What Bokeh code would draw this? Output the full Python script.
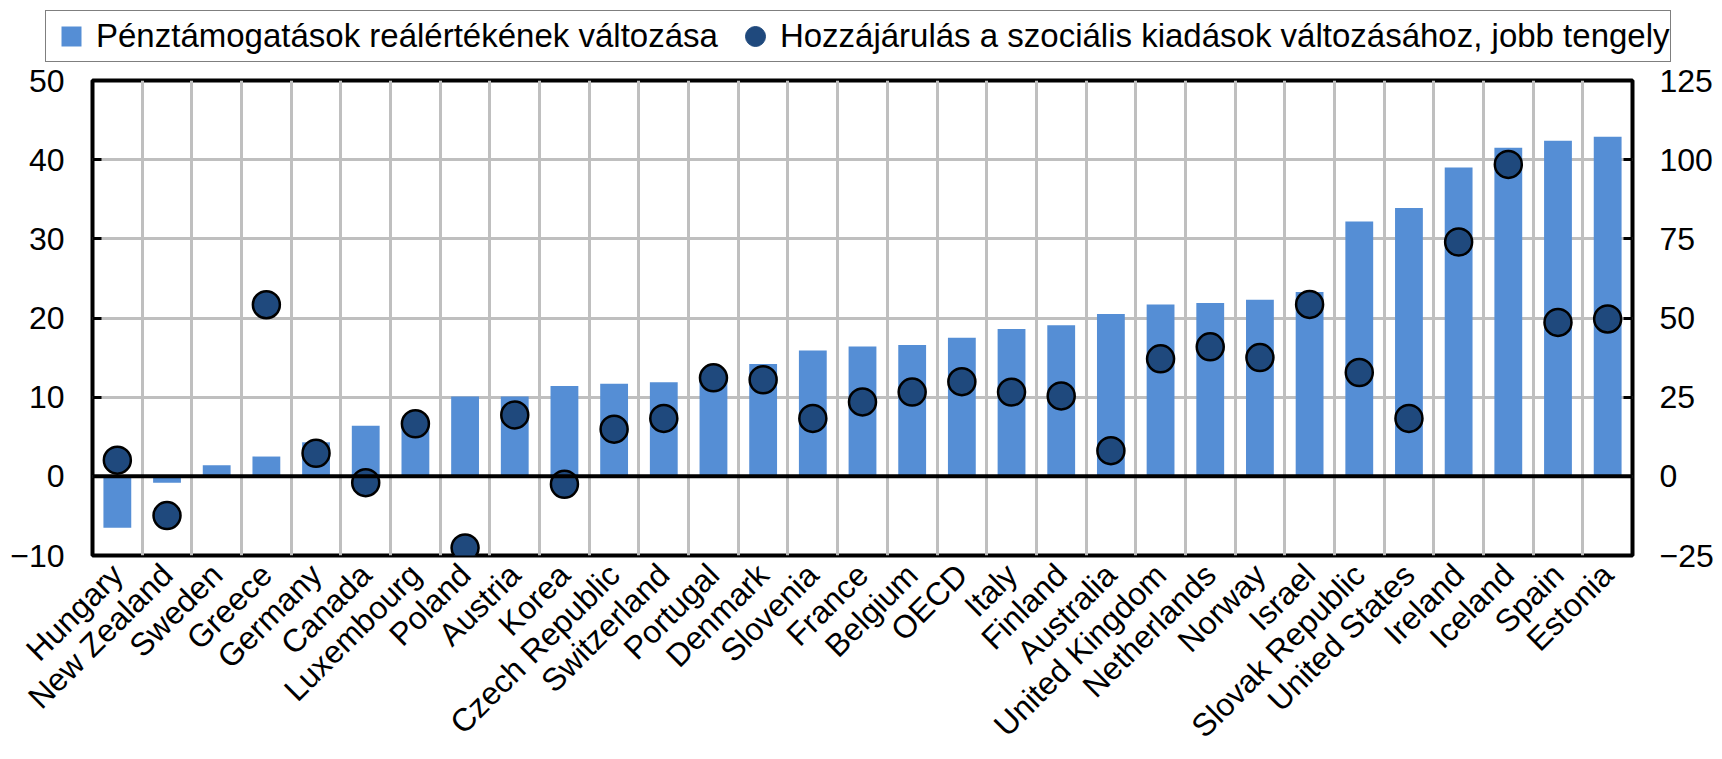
import numpy as np
from bokeh.plotting import figure
from bokeh.layouts import column
from bokeh.models import (FactorRange, Range1d, LinearAxis, FixedTicker, Legend,
                          LegendItem, Span, ColumnDataSource)
from bokeh.embed import file_html
from bokeh.resources import INLINE

countries = ["Hungary", "New Zealand", "Sweden", "Greece", "Germany", "Canada",
             "Luxembourg", "Poland", "Austria", "Korea", "Czech Republic",
             "Switzerland", "Portugal", "Denmark", "Slovenia", "France", "Belgium",
             "OECD", "Italy", "Finland", "Australia", "United Kingdom",
             "Netherlands", "Norway", "Israel", "Slovak Republic", "United States",
             "Ireland", "Iceland", "Spain", "Estonia"]
cash_change = [-6.5, -0.8, 1.4, 2.5, 4.3, 6.4, 7.0, 10.1, 10.1, 11.4, 11.7,
               11.9, 12.5, 14.2, 15.9, 16.4, 16.6, 17.5, 18.6, 19.1, 20.5, 21.7,
               21.9, 22.3, 23.3, 32.2, 33.9, 39.0, 41.5, 42.4, 42.9]
contribution = [5.1, -12.4, np.nan, 54.2, 7.3, -2.0, 16.6, -22.6, 19.4, -2.5, 14.9,
                18.3, 31.1, 30.5, 18.3, 23.5, 26.6, 29.9, 26.6, 25.4, 8.1, 37.1,
                40.9, 37.5, 54.3, 32.8, 18.3, 74.0, 98.5, 48.6, 49.7]
left_ticks = [-10, 0, 10, 20, 30, 40, 50]
right_ticks = [-25, 0, 25, 50, 75, 100, 125]
bar_label = "Pénztámogatások reálértékének változása"
dot_label = "Hozzájárulás a szociális kiadások változásához, jobb tengely"

FONT = "Liberation Sans"
BAR_COLOR = "#558ED5"
DOT_COLOR = "#1F497D"
GRID = "#BFBFBF"
W = 1722

src = ColumnDataSource(dict(country=countries, cash=cash_change, contrib=contribution))

# ---------------- legend strip ----------------
lf = figure(width=W, height=63, x_range=Range1d(0, 1), y_range=Range1d(0, 1),
            output_backend="svg", toolbar_location=None,
            x_axis_location=None, y_axis_location=None, min_border=0)
lf.frame_align = False
lf.outline_line_color = None
lf.grid.visible = False
leg_bar = lf.scatter(x=[0.5], y=[np.nan], marker="square", fill_color=BAR_COLOR,
                     line_color=None)
leg_dot = lf.scatter(x=[0.5], y=[np.nan], marker="circle", fill_color=DOT_COLOR,
                     line_color=DOT_COLOR, line_width=1)
legend = Legend(items=[LegendItem(label=bar_label, renderers=[leg_bar]),
                       LegendItem(label=dot_label, renderers=[leg_dot])],
                orientation="horizontal", location=(45, 1))
legend.margin = 0
legend.padding = 0
legend.spacing = 12
legend.glyph_width = 50
legend.glyph_height = 50
legend.label_height = 50
legend.label_standoff = 0
legend.label_text_font = FONT
legend.label_text_font_size = "33px"
legend.label_text_color = "black"
legend.border_line_color = "black"
legend.border_line_width = 1.5
legend.background_fill_alpha = 1
lf.add_layout(legend, "center")

# ---------------- main chart ----------------
p = figure(frame_width=1540, frame_height=475, x_range=FactorRange(*countries),
           y_range=Range1d(left_ticks[0], left_ticks[-1]),
           output_backend="svg", toolbar_location=None,
           min_border_left=92, min_border_right=90, min_border_top=17,
           min_border_bottom=204)
p.frame_align = False
p.extra_y_ranges = {"right": Range1d(right_ticks[0], right_ticks[-1])}

p.outline_line_color = "black"
p.outline_line_width = 4
p.background_fill_color = "white"
p.border_fill_color = "white"

p.ygrid.ticker = FixedTicker(ticks=left_ticks)
p.ygrid.grid_line_color = GRID
p.ygrid.grid_line_width = 3
p.xgrid.ticker = FixedTicker(ticks=list(range(1, len(countries))))
p.xgrid.grid_line_color = GRID
p.xgrid.grid_line_width = 3

bars = p.vbar(x="country", top="cash", width=0.56, source=src,
              fill_color=BAR_COLOR, line_color=None)

p.add_layout(Span(location=0, dimension="width", line_color="black", line_width=4))

dots = p.scatter(x="country", y="contrib", source=src, y_range_name="right",
                 size=27, fill_color=DOT_COLOR, line_color="black", line_width=2.5)

ya = p.yaxis[0]
ya.ticker = FixedTicker(ticks=left_ticks)
ya.axis_line_color = None
ya.major_tick_in = 9
ya.major_tick_out = 0
ya.major_tick_line_width = 3
ya.major_tick_line_color = "black"
ya.minor_tick_line_color = None
ya.major_label_standoff = 28
ya.major_label_text_font = FONT
ya.major_label_text_font_size = "32px"
ya.major_label_text_color = "black"

ra = LinearAxis(y_range_name="right", ticker=FixedTicker(ticks=right_ticks))
ra.axis_line_color = None
ra.major_tick_in = 9
ra.major_tick_out = 0
ra.major_tick_line_width = 3
ra.major_tick_line_color = "black"
ra.minor_tick_line_color = None
ra.major_label_standoff = 27
ra.major_label_text_font = FONT
ra.major_label_text_font_size = "32px"
ra.major_label_text_color = "black"
p.add_layout(ra, "right")

xa = p.xaxis[0]
xa.axis_line_color = None
xa.major_tick_line_color = None
xa.minor_tick_line_color = None
xa.major_label_orientation = np.pi / 4
xa.major_label_standoff = 8
xa.major_label_text_font = FONT
xa.major_label_text_font_size = "32px"
xa.major_label_text_color = "black"

layout = column(lf, p, spacing=0)
open("out.html", "w").write(file_html(layout, INLINE))
